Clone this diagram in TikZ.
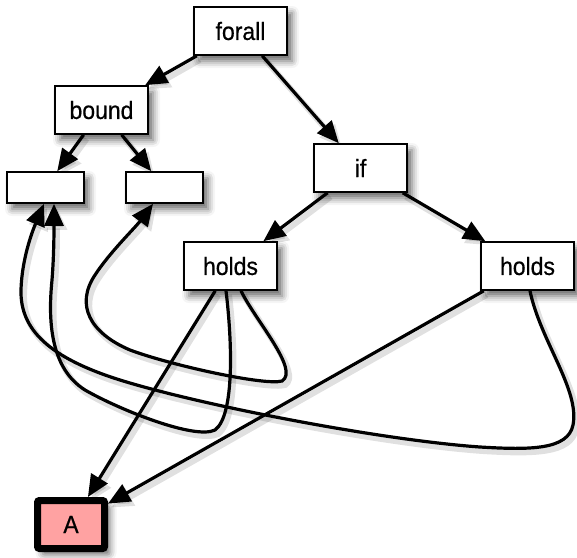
\documentclass[tikz,border=0pt]{standalone}
\usepackage{fontspec}
\setmainfont{Liberation Sans}[FakeStretch=0.92,FakeBold=0.6]
\usetikzlibrary{arrows.meta,shadows.blur,backgrounds}
\definecolor{apink}{RGB}{255,162,162}
\tikzset{
  box/.style={draw=black, line width=1.6pt, fill=white, minimum width=93pt, minimum height=48pt,
    inner sep=0pt, font=\fontsize{25}{28}\selectfont,
    blur shadow={shadow xshift=5pt, shadow yshift=-6pt, shadow blur radius=7pt, shadow opacity=60}},
  emptybox/.style={box, minimum width=77pt, minimum height=31pt},
  abox/.style={box, fill=apink, line width=7pt, minimum width=67pt, minimum height=48pt, rounded corners=2pt},
  conn/.style={line width=3.2pt, -{Triangle[length=22pt,width=19pt]},
    preaction={draw=black, opacity=0.12, line width=6pt, transform canvas={shift={(3pt,-4pt)}}}},
}
\begin{document}
\begin{tikzpicture}[x=1pt,y=-1pt]
\useasboundingbox (0,0) rectangle (577,557);
\node[box] (forall) at (240.5,31) {forall};
\node[box] (bound) at (101.5,110) {bound};
\node[emptybox] (el) at (45.5,187.5) {};
\node[emptybox] (er) at (164.5,187.5) {};
\node[box] (if) at (360.5,168) {if};
\node[box] (hl) at (230.5,266) {holds};
\node[box] (hr) at (527.5,266) {holds};
\node[abox] (A) at (71,524.5) {A};

\begin{scope}[on background layer]
\draw[conn] (forall) -- (bound);
\draw[conn] (forall) -- (if);
\draw[conn] (bound) -- (el);
\draw[conn] (bound) -- (er);
\draw[conn] (if) -- (hl);
\draw[conn] (if) -- (hr);
\draw[conn] (hl) -- (A);
\draw[conn] (hr) -- (A);

\draw[conn] ([xshift=10.5pt]hl.south) .. controls (255,320) and (300,370) .. (282,381)
  .. controls (265,386) and (170,365) .. (130,350)
  .. controls (90,333) and (75,305) .. (95,275)
  .. controls (110,252) and (135,228) .. ([xshift=-11.5pt]er.south);
\draw[conn] ([xshift=-4.5pt]hl.south) .. controls (232,340) and (235,415) .. (215,430)
  .. controls (195,440) and (120,410) .. (85,390)
  .. controls (50,368) and (48,320) .. (52,280)
  .. controls (54,255) and (54,230) .. ([xshift=8.5pt]el.south);
\draw[conn] ([xshift=2.5pt]hr.south) .. controls (540,340) and (580,390) .. (573,425)
  .. controls (568,450) and (530,450) .. (480,447)
  .. controls (380,440) and (200,405) .. (120,380)
  .. controls (50,358) and (20,330) .. (21,290)
  .. controls (22,255) and (35,225) .. ([xshift=-1.5pt]el.south);
\end{scope}
\end{tikzpicture}
\end{document}
